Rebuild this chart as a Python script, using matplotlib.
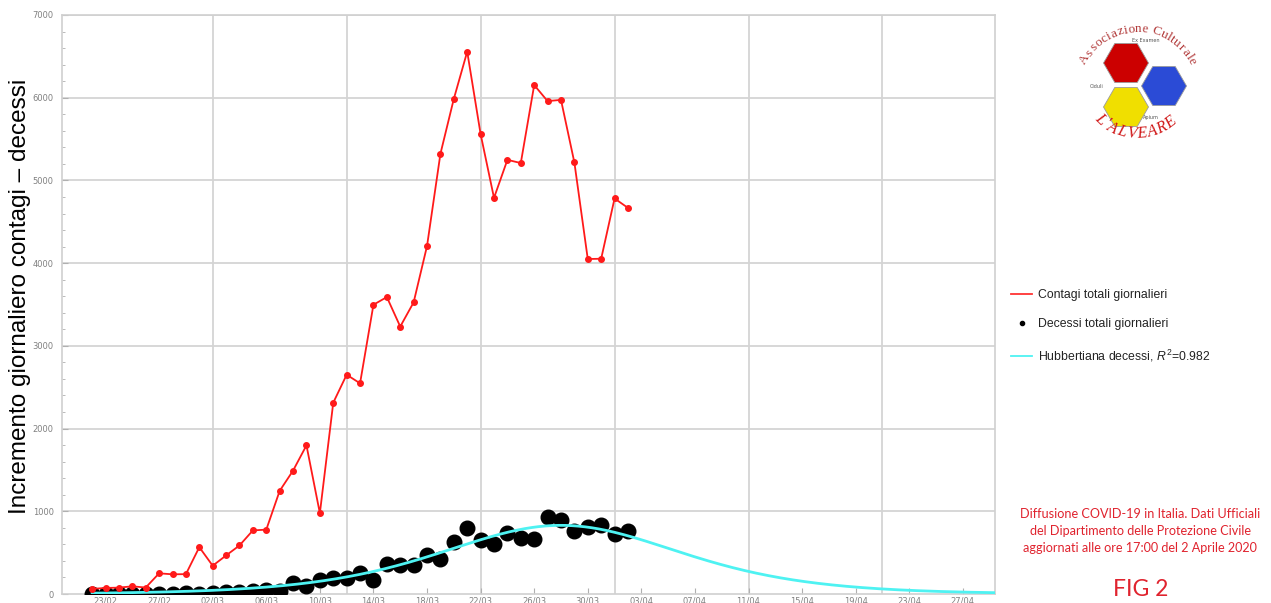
import numpy as np
import matplotlib
matplotlib.use("Agg")
import matplotlib.pyplot as plt
import matplotlib.dates as mdates
from matplotlib.patches import RegularPolygon
from matplotlib.lines import Line2D

plt.rcParams["mathtext.fontset"] = "custom"
plt.rcParams["mathtext.rm"] = "Liberation Sans"
plt.rcParams["mathtext.it"] = "Liberation Sans:italic"

# daily data, Italy, 22/02/2020 -> 02/04/2020
start_day = np.datetime64("2020-02-22")
contagi = [62, 73, 77, 93, 78, 250, 238, 240, 566, 342, 466, 587, 769, 778,
           1247, 1492, 1797, 977, 2313, 2651, 2547, 3497, 3590, 3233, 3526,
           4207, 5322, 5986, 6557, 5560, 4789, 5249, 5210, 6153, 5959, 5974,
           5217, 4050, 4053, 4782, 4668]
decessi = [1, 1, 4, 3, 2, 5, 4, 8, 5, 18, 27, 28, 41, 49, 36, 133, 97, 168,
           196, 189, 250, 175, 368, 349, 345, 475, 427, 627, 793, 651, 601,
           743, 683, 662, 930, 889, 756, 812, 837, 727, 760]
giorni = start_day + np.arange(len(contagi)).astype("timedelta64[D]")

# fitted Hubbert curve for the deaths
hub_peak = 830.0
hub_center = np.datetime64("2020-03-28")
hub_rate = 0.165
hub_r2 = 0.982
hub_end = np.datetime64("2020-04-30")

y_ticks = [0, 1000, 2000, 3000, 4000, 5000, 6000, 7000]

W, H = 1271, 603
fig = plt.figure(figsize=(W / 100, H / 100), dpi=100)
ax = fig.add_axes([62 / W, 9 / H, (995 - 62) / W, (594 - 15) / H])

t_hub = np.arange(0, (hub_end - start_day).astype(int) + 0.5, 0.1)
d = t_hub - (hub_center - start_day).astype(int)
hub = hub_peak / np.cosh(hub_rate * d / 2) ** 2
x_hub = mdates.date2num(start_day) + t_hub

x = mdates.date2num(giorni)
ax.plot(x, decessi, "o", color="black", ms=10.5, zorder=3)
ax.plot(x_hub, hub, color="#4ef2f2", lw=2, zorder=4)
ax.plot(x, contagi, "-o", color="#ff1a1a", lw=1.3, ms=4, zorder=5)

x0 = mdates.date2num(np.datetime64("2020-03-02"))
ax.set_xlim(x0 - 11.25, x0 + 58.4)
ax.set_ylim(0, 7000)

ticks = [mdates.date2num(np.datetime64("2020-02-23")) + 4 * i for i in range(17)]
ax.set_xticks(ticks)
ax.xaxis.set_major_formatter(mdates.DateFormatter("%d/%m"))
ax.set_yticks(y_ticks)
ax.set_yticks(np.arange(0, 7001, 200), minor=True)

grid_x = [x0 + 10 * i for i in range(6)]
for gx in grid_x:
    ax.axvline(gx, color="#d4d4d4", lw=1.3, zorder=1)
for gy in y_ticks[1:]:
    ax.axhline(gy, color="#d4d4d4", lw=1.3, zorder=1)

for s in ax.spines.values():
    s.set_color("#d0d0d0")
    s.set_linewidth(1.2)
ax.tick_params(axis="both", which="major", labelsize=6, labelcolor="#808080",
               color="#b0b0b0", length=4, width=0.8, direction="in")
ax.tick_params(axis="y", which="minor", color="#b0b0b0", length=2, width=0.6, direction="in")
ax.tick_params(axis="y", pad=6)
ax.tick_params(axis="x", pad=1.5)

fig.text(20 / W, 1 - 296 / H, "Incremento giornaliero contagi \u2013 decessi",
         rotation=90, ha="center", va="center", fontsize=17.5,
         family="Liberation Sans")

# legend
handles = [Line2D([], [], color="#ff3333", lw=1.3),
           Line2D([], [], ls="none", marker="o", color="black", ms=3),
           Line2D([], [], color="#4ef2f2", lw=1.3)]
labels = ["Contagi totali giornalieri", "Decessi totali giornalieri",
          "Hubbertiana decessi, $R^2$=%.3f" % hub_r2]
fig.legend(handles, labels, loc="upper left", bbox_to_anchor=(1000 / W, 1 - 278 / H),
           frameon=False, prop={"family": "Liberation Sans", "size": 8.8},
           handlelength=1.75, handletextpad=0.5, labelspacing=1.42,
           labelcolor="#222222")

red_txt = "#e0232e"
fig.text(1140 / W, 1 - 531 / H,
         "Diffusione COVID-19 in Italia. Dati Ufficiali\n"
         "del Dipartimento delle Protezione Civile\n"
         "aggiornati alle ore 17:00 del 2 Aprile 2020",
         ha="center", va="center", color=red_txt, fontsize=9.1, family="Lato",
         linespacing=1.55)
fig.text(1141 / W, 1 - 589 / H, "FIG 2", ha="center", va="center",
         color=red_txt, fontsize=16.5, family="Lato")

# association logo
lg = fig.add_axes([0, 0, 1, 1], zorder=10)
lg.set_xlim(0, W)
lg.set_ylim(0, H)
lg.axis("off")
hexes = [((1126, 63), "#cc0000"), ((1164, 86), "#2b4bd6"), ((1126, 107), "#f0df00")]
for (cx, cy), col in hexes:
    lg.add_patch(RegularPolygon((cx, H - cy), 6, radius=22.5, orientation=np.pi / 6,
                                facecolor=col, edgecolor="#9a9a9a", lw=0.6))
lg.text(1146, H - 40, "Ex Examen", fontsize=3.5, color="#555555", ha="center", va="center")
lg.text(1097, H - 86, "Ciduli", fontsize=3.5, color="#555555", ha="center", va="center")
lg.text(1151, H - 118, "Apium", fontsize=3.5, color="#555555", ha="center", va="center")


def char_w(ch):
    if ch in "ilt ':":
        return 0.55
    if ch.isupper():
        return 1.35
    return 1.0


def arc_text(s, cx, cy, r, a0, a1, top, **kw):
    w = np.array([char_w(c) for c in s])
    pos = np.cumsum(w) - w / 2
    angs = a0 + (a1 - a0) * (pos - pos[0]) / (pos[-1] - pos[0])
    for ch, a in zip(s, angs):
        ar = np.deg2rad(a)
        rot = a - 90 if top else a + 90
        lg.text(cx + r * np.cos(ar), cy + r * np.sin(ar), ch, rotation=rot,
                ha="center", va="center", rotation_mode="anchor", **kw)


arc_text("Associazione Culturale", 1138, H - 90, 61, 150, 28, True,
         fontsize=9.5, color="#b23a3a", family="Liberation Serif")
arc_text("L'ALVEARE", 1138, H - 80, 54, 226, 307, False,
         fontsize=11.5, color="#d01818", family="Liberation Serif", style="italic")

fig.savefig("out.png", dpi=100)
